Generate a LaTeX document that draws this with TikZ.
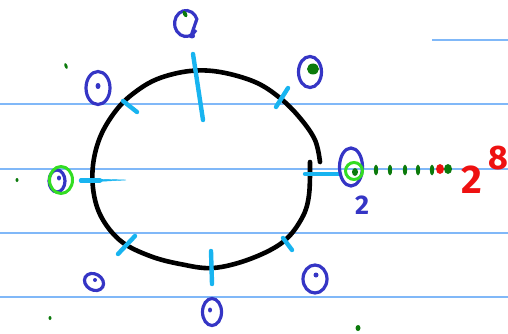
\documentclass[tikz,border=0pt]{standalone}
\usepackage{fontspec}
\setmainfont{Fira Sans}
\definecolor{ruled}{HTML}{80B8F8}
\definecolor{tick}{HTML}{18B4F0}
\definecolor{ink}{HTML}{3535C5}
\definecolor{dgreen}{HTML}{0B7A0B}
\definecolor{lgreen}{HTML}{33DD22}
\definecolor{redink}{HTML}{EE1111}
\tikzset{
  ruleline/.style={ruled, line width=1.4pt},
  loopline/.style={black, line width=4.6pt, line cap=round, line join=round},
  tickmark/.style={tick, line width=4.4pt, line cap=round},
  circ/.style={ink, line width=3.2pt},
  cdot/.style={ink, fill=ink},
  gdot/.style={dgreen, fill=dgreen},
}
\begin{document}
\begin{tikzpicture}[x=1pt,y=-1pt]
\useasboundingbox (0,0) rectangle (508,334);
% ruled lines
\draw[ruleline] (0,104) -- (508,104);
\draw[ruleline] (0,169) -- (508,169);
\draw[ruleline] (0,233) -- (508,233);
\draw[ruleline] (0,297) -- (508,297);
\draw[ruleline] (432,40) -- (508,40);
% loop
\draw[loopline] plot[smooth, tension=0.6] coordinates {(320,162) (315,140) (300,118) (280,98) (255,82) (220,72) (190,71) (160,78) (138,90) (118,108) (101,135) (93,165) (94,195) (103,220) (122,242) (150,256) (180,264) (213,268) (250,259) (283,242) (302,218) (309,195) (310,162)};
% ticks
\draw[tickmark] (193,54) -- (203,120);
\draw[tickmark] (123,101) -- (137,112);
\draw[tickmark] (276,107) -- (288,88);
\draw[tick, fill=tick] (80,178.5) -- (80,182.5) -- (126,180) -- cycle;
\draw[tickmark] (81,180.5) -- (100,180.5);
\draw[tickmark] (118,254) -- (135,236);
\draw[tickmark] (211,251) -- (212,284);
\draw[tickmark] (283,238) -- (292,250);
\draw[tickmark] (305,174) -- (340,174);
% blue circles
\draw[circ] (196,30) arc[start angle=30, end angle=340, x radius=11.5, y radius=13] -- (191,36);
\fill[cdot] (192,36) ellipse (3 and 2.5);
\draw[circ] (98,88) ellipse (12 and 16.5);
\fill[cdot] (98,86) ellipse (2.5 and 3);
\draw[circ] (310,72) ellipse (11.5 and 15.5);
\fill[gdot] (313,69) ellipse (6 and 5.5);
\draw[circ] (57,181) ellipse (8 and 11);
\fill[cdot] (59,178) ellipse (2 and 2.5);
\draw[lgreen, line width=3pt] (61,180) ellipse (11.5 and 13.5);
\draw[circ, rotate around={-30:(94,282)}] (94,282) ellipse (10 and 8);
\fill[cdot] (95,280) ellipse (2 and 2);
\draw[circ] (212,312) ellipse (9.5 and 13.5);
\fill[cdot] (210,310) ellipse (2 and 2.5);
\draw[circ] (315,279) ellipse (12 and 14);
\fill[cdot] (316,275) ellipse (2.5 and 2.5);
\draw[circ] (351,167) ellipse (11.5 and 19);
\draw[lgreen, line width=3pt] (354,171) ellipse (8.5 and 8.5);
\fill[gdot] (355,172) ellipse (3 and 4);
% labels
\node[ink, font=\bfseries\fontsize{27}{27}\selectfont] (two) at (362,205) {2};
\node[redink, font=\bfseries\fontsize{40}{40}\selectfont] (base) at (472,180) {2};
\node[redink, font=\bfseries\fontsize{34}{34}\selectfont] (expo) at (498,158) {8};
% green dashes
\foreach \xx in {376,390,405,418,432}
  \fill[gdot] (\xx,170) ellipse (2.2 and 5.5);
\fill[redink] (440,169) ellipse (4 and 5);
\fill[gdot] (448,169) ellipse (4 and 5);
% stray dots
\fill[gdot, rotate around={30:(185,14)}] (185,14) ellipse (2 and 3.5);
\fill[gdot, rotate around={20:(66,66)}] (66,66) ellipse (1.5 and 3);
\fill[gdot] (17,180) ellipse (1.5 and 2);
\fill[gdot] (50,318) ellipse (1.5 and 2);
\fill[gdot] (358,328) ellipse (2.5 and 3);
\end{tikzpicture}
\end{document}
